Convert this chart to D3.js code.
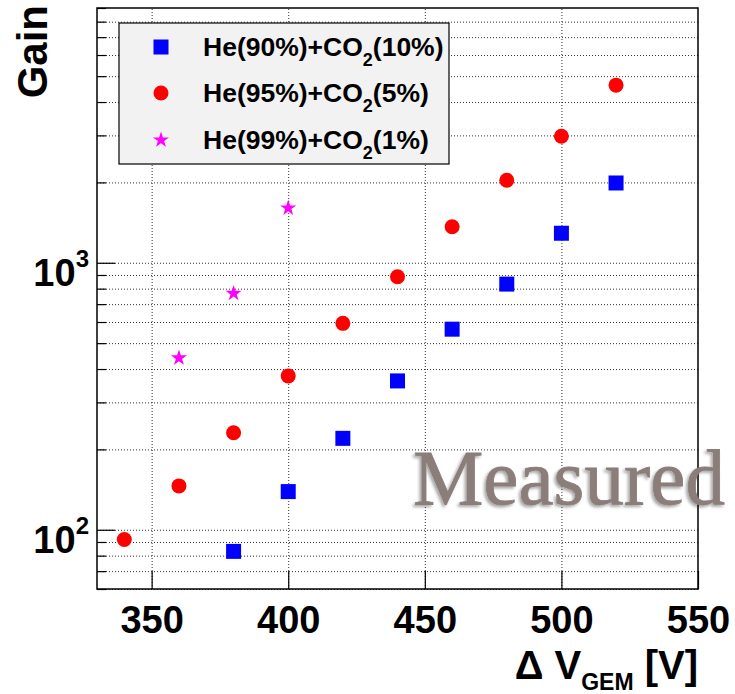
<!DOCTYPE html>
<html>
<head>
<meta charset="utf-8">
<script src="https://cdn.jsdelivr.net/npm/d3@7"></script>
<style>
    body { margin: 0; background: #fff; }
    svg { display: block; font-family: "Liberation Sans", Arial, sans-serif; }
</style>
</head>
<body>
<div id="app"></div>
<script>
// data
var voltages90 = [380, 400, 420, 440, 460, 480, 500, 520];
var gain90 = [83, 139, 220, 361, 564, 832, 1290, 1990];

var voltages95 = [340, 360, 380, 400, 420, 440, 460, 480, 500, 520];
var gain95 = [92, 146, 231, 377, 593, 887, 1364, 2037, 2976, 4627];

var voltages99 = [360, 380, 400];
var gain99 = [440, 768, 1603];

var seriesNames = ["He(90%)+CO", "He(95%)+CO", "He(99%)+CO"];
var seriesTails = ["(10%)", "(5%)", "(1%)"];

var xTicks = [350, 400, 450, 500, 550];
var yMajorTicks = [100, 1000];
var yMinorTicks = [60, 70, 80, 90, 200, 300, 400, 500, 600, 700, 800, 900,
    2000, 3000, 4000, 5000, 6000, 7000, 8000, 9000];

function drawGainChart(options) {
    var svg = d3.select("#app")
        .append("svg")
        .attr("width", options.width)
        .attr("height", options.height);

    // soft shadow for the watermark
    var defs = svg.append("defs");
    var f = defs.append("filter").attr("id", "shade")
        .attr("x", "-10%").attr("y", "-20%").attr("width", "120%").attr("height", "140%");
    f.append("feDropShadow")
        .attr("dx", -2).attr("dy", 2).attr("stdDeviation", 1.6)
        .attr("flood-color", "#000").attr("flood-opacity", 0.35);

    var m = options.margin;
    var w = options.width - m.left - m.right;
    var h = options.height - m.top - m.bottom;

    var x = d3.scaleLinear().domain([330, 550]).range([m.left, m.left + w]);
    var y = d3.scaleLog().domain([60, 9000]).range([m.top + h, m.top]);

    // grid (dotted), ROOT style
    svg.append("g")
        .attr("transform", "translate(0," + (m.top + h) + ")")
        .call(d3.axisBottom(x).tickValues(xTicks.slice(0, 4)).tickSize(-h).tickFormat(""))
        .call(function (g) {
            g.select(".domain").remove();
            g.selectAll("line").attr("stroke", "#333").attr("stroke-dasharray", "1,2");
        });

    svg.append("g")
        .attr("transform", "translate(" + m.left + ",0)")
        .call(d3.axisLeft(y).tickValues(yMajorTicks.concat(yMinorTicks.slice(0, -1))).tickSize(-w).tickFormat(""))
        .call(function (g) {
            g.select(".domain").remove();
            g.selectAll("line").attr("stroke", "#333").attr("stroke-dasharray", "1,2");
        });

    // x axis: ticks pointing inside
    var xAxis = svg.append("g")
        .attr("transform", "translate(0," + (m.top + h) + ")")
        .call(d3.axisBottom(x).tickValues(xTicks).tickSizeInner(-18).tickSizeOuter(0).tickPadding(0));
    xAxis.select(".domain").remove();
    xAxis.selectAll("line").attr("stroke", "#000").attr("stroke-width", 1.2);
    xAxis.selectAll("text")
        .attr("y", 44).attr("dy", 0)
        .attr("fill", "#000")
        .style("font-size", "38px").style("font-weight", "bold");

    // y axis minor ticks
    var yMinor = svg.append("g")
        .attr("transform", "translate(" + m.left + ",0)")
        .call(d3.axisLeft(y).tickValues(yMinorTicks).tickSize(-9).tickFormat(""));
    yMinor.select(".domain").remove();
    yMinor.selectAll("line").attr("stroke", "#000").attr("stroke-width", 1.2);

    // y axis major ticks with 10^n labels
    var yAxis = svg.append("g")
        .attr("transform", "translate(" + m.left + ",0)")
        .call(d3.axisLeft(y).tickValues(yMajorTicks).tickSizeInner(-18).tickSizeOuter(0).tickPadding(8)
            .tickFormat(function () { return ""; }));
    yAxis.select(".domain").remove();
    yAxis.selectAll("line").attr("stroke", "#000").attr("stroke-width", 1.2);
    yAxis.selectAll("text")
        .attr("dy", 23)
        .attr("fill", "#000")
        .style("font-size", "38px").style("font-weight", "bold")
        .each(function (d) {
            var t = d3.select(this);
            t.append("tspan").text("10");
            t.append("tspan").attr("dy", -19).style("font-size", "24px").text(Math.round(Math.log10(d)));
        });

    // frame
    svg.append("rect")
        .attr("x", m.left).attr("y", m.top)
        .attr("width", w).attr("height", h)
        .attr("fill", "none").attr("stroke", "#000").attr("stroke-width", 1.5);

    // watermark (spills a bit past the frame, like the original)
    svg.append("text")
        .attr("x", 413).attr("y", 504)
        .attr("fill", "#8b7e7a")
        .attr("stroke", "#8b7e7a").attr("stroke-width", 0.8)
        .attr("filter", "url(#shade)")
        .attr("textLength", 312)
        .attr("lengthAdjust", "spacingAndGlyphs")
        .style("font-family", "'Liberation Serif', 'Times New Roman', serif")
        .style("font-size", "79px")
        .text("Measured");

    // markers
    var star = d3.symbol().type(d3.symbolStar).size(options.starSize);

    svg.append("g").selectAll("rect")
        .data(d3.zip(voltages90, gain90))
        .enter().append("rect")
        .attr("x", function (d) { return x(d[0]) - options.square / 2; })
        .attr("y", function (d) { return y(d[1]) - options.square / 2; })
        .attr("width", options.square).attr("height", options.square)
        .attr("fill", options.colors[0]);

    svg.append("g").selectAll("circle")
        .data(d3.zip(voltages95, gain95))
        .enter().append("circle")
        .attr("cx", function (d) { return x(d[0]); })
        .attr("cy", function (d) { return y(d[1]); })
        .attr("r", options.radius)
        .attr("fill", options.colors[1]);

    svg.append("g").selectAll("path")
        .data(d3.zip(voltages99, gain99))
        .enter().append("path")
        .attr("d", star)
        .attr("transform", function (d) { return "translate(" + x(d[0]) + "," + y(d[1]) + ")"; })
        .attr("fill", options.colors[2]);

    // legend
    var lg = svg.append("g");
    lg.append("rect")
        .attr("x", 119).attr("y", 23).attr("width", 330).attr("height", 141)
        .attr("fill", "#f2f2f2").attr("stroke", "#000").attr("stroke-width", 1.2);

    var rowsY = [47, 93, 140];
    lg.append("rect")
        .attr("x", 161 - options.square / 2).attr("y", rowsY[0] - options.square / 2)
        .attr("width", options.square).attr("height", options.square)
        .attr("fill", options.colors[0]);
    lg.append("circle")
        .attr("cx", 161).attr("cy", rowsY[1]).attr("r", options.radius)
        .attr("fill", options.colors[1]);
    lg.append("path")
        .attr("d", star)
        .attr("transform", "translate(161," + rowsY[2] + ")")
        .attr("fill", options.colors[2]);

    seriesNames.forEach(function (name, i) {
        var t = lg.append("text")
            .attr("x", 203).attr("y", rowsY[i] + 9)
            .attr("fill", "#000")
            .style("font-size", "26.5px").style("font-weight", "bold");
        t.append("tspan").text(name);
        t.append("tspan").attr("dy", 10).style("font-size", "18px").text("2");
        t.append("tspan").attr("dy", -10).text(seriesTails[i]);
    });

    // axis titles
    var xt = svg.append("text")
        .attr("x", m.left + w).attr("y", 679)
        .attr("text-anchor", "end")
        .attr("fill", "#000")
        .style("font-size", "40px").style("font-weight", "bold");
    xt.append("tspan").text("\u0394 V");
    xt.append("tspan").attr("dy", 11).style("font-size", "23px").text("GEM");
    xt.append("tspan").attr("dy", -11).text(" [V]");

    svg.append("text")
        .attr("transform", "translate(47,5) rotate(-90)")
        .attr("text-anchor", "end")
        .attr("fill", "#000")
        .style("font-size", "42px").style("font-weight", "bold")
        .text("Gain");
}

var chartOptions = {
    width: 735,
    height: 694,
    margin: { top: 8, right: 37, bottom: 105, left: 97 },
    colors: ["#0000ff", "#ff0000", "#ff00ff"],
    square: 15,
    radius: 7.5,
    starSize: 80
};

drawGainChart(chartOptions);
</script>
</body>
</html>
